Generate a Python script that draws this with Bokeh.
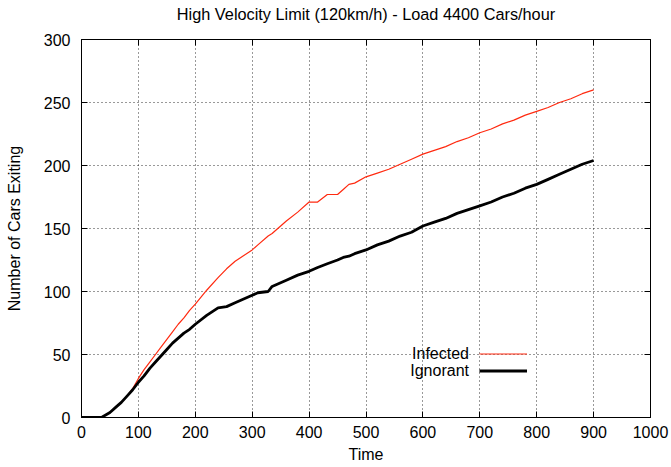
from bokeh.plotting import figure
from bokeh.models import LinearAxis, Range1d, FixedTicker, Legend, LegendItem, Label, CustomJSTickFormatter
from bokeh.embed import file_html
from bokeh.resources import INLINE

title = "High Velocity Limit (120km/h) - Load 4400 Cars/hour"
x_label = "Time"
y_label = "Number of Cars Exiting"
x_ticks = [0, 100, 200, 300, 400, 500, 600, 700, 800, 900, 1000]
y_ticks = [0, 50, 100, 150, 200, 250, 300]

time = [0, 35, 50, 60, 70, 80, 90, 100, 110, 120, 130, 140, 150, 160, 170, 180, 190, 200,
        220, 240, 255, 270, 280, 300, 310, 328, 335, 350, 360, 380, 400, 415, 432, 450,
        460, 470, 480, 500, 520, 540, 560, 580, 600, 620, 640, 660, 680, 700, 720, 740,
        760, 780, 800, 820, 840, 860, 880, 900]
infected = [0, 0, 4, 8, 12, 17, 23, 31, 38, 44, 50, 56, 62, 68, 74, 79, 85, 90,
            101, 111, 118, 124, 127, 133, 137, 144, 146, 152, 156, 163, 171, 171, 177, 177,
            181, 185, 186, 191, 194, 197, 201, 205, 209, 212, 215, 219, 222, 226, 229, 233,
            236, 240, 243, 246, 250, 253, 257, 260]
ignorant = [0, 0, 4, 8, 12, 17, 22, 28, 33, 39, 44, 49, 54, 59, 63, 67, 70, 74,
            81, 87, 88, 91, 93, 97, 99, 100, 104, 107, 109, 113, 116, 119, 122, 125,
            127, 128, 130, 133, 137, 140, 144, 147, 152, 155, 158, 162, 165, 168, 171, 175,
            178, 182, 185, 189, 193, 197, 201, 204]
series_names = ["Infected", "Ignorant"]

FONT = "Liberation Sans"
FS = "16px"

p = figure(width=670, height=466, output_backend="svg", toolbar_location=None,
           x_range=Range1d(0, 1000), y_range=Range1d(0, 300),
           min_border_left=81, min_border_right=20, min_border_top=39, min_border_bottom=49)

p.outline_line_color = "black"
p.outline_line_width = 1
p.background_fill_color = "white"
p.border_fill_color = "white"

for ax in (p.xaxis[0], p.yaxis[0]):
    ax.major_tick_in = 6
    ax.major_tick_out = 0
    ax.minor_tick_line_color = None
    ax.axis_line_color = "black"
    ax.major_tick_line_color = "black"
    ax.major_label_text_font = FONT
    ax.major_label_text_font_size = FS
    ax.major_label_text_color = "black"
    ax.axis_label_text_font = FONT
    ax.axis_label_text_font_size = FS
    ax.axis_label_text_font_style = "normal"
    ax.axis_label_text_color = "black"

p.xaxis[0].ticker = FixedTicker(ticks=x_ticks)
p.yaxis[0].ticker = FixedTicker(ticks=y_ticks)
p.xaxis[0].axis_label = x_label
p.yaxis[0].axis_label = y_label
p.xaxis[0].major_label_standoff = 8
p.yaxis[0].major_label_standoff = 11
p.xaxis[0].axis_label_standoff = 5
p.yaxis[0].axis_label_standoff = 18

mirror = {}
for loc, tk in (("right", y_ticks), ("above", x_ticks)):
    ax = LinearAxis(ticker=FixedTicker(ticks=tk), major_tick_in=6, major_tick_out=0,
                    minor_tick_line_color=None,
                    formatter=CustomJSTickFormatter(code="return ''"),
                    major_label_standoff=0, axis_line_color="black",
                    major_tick_line_color="black")
    p.add_layout(ax, loc)
    mirror[loc] = ax

# the chart title is carried by the top (mirror) axis
top = mirror["above"]
top.axis_label = title
top.axis_label_text_font = FONT
top.axis_label_text_font_size = "16.3px"
top.axis_label_text_font_style = "normal"
top.axis_label_text_color = "black"
top.axis_label_standoff = 17

p.xgrid[0].ticker = FixedTicker(ticks=x_ticks[1:-1])
p.ygrid[0].ticker = FixedTicker(ticks=y_ticks[1:-1])
p.grid.grid_line_color = "black"
p.grid.grid_line_dash = "1 3"
p.grid.grid_line_width = 1
p.grid.grid_line_alpha = 0.8

r_inf = p.line(time, infected, line_color="#ff2a10", line_width=1.2)
r_ign = p.line(time, ignorant, line_color="black", line_width=2.8)

legend = Legend(items=[LegendItem(label=series_names[0], renderers=[r_inf]),
                       LegendItem(label=series_names[1], renderers=[r_ign])],
                location=(398, 38), padding=0, margin=0, spacing=0,
                glyph_width=48, glyph_height=17, label_height=17,
                label_text_alpha=0, label_text_font_size="10px", label_standoff=0,
                background_fill_alpha=0, border_line_alpha=0)
p.add_layout(legend)

for name, yv in zip(series_names, [51, 37]):
    p.add_layout(Label(x=681, y=yv, text=name, text_align="right", text_baseline="middle",
                       text_font=FONT, text_font_size=FS, text_color="black"))

open("out.html", "w").write(file_html(p, INLINE))
